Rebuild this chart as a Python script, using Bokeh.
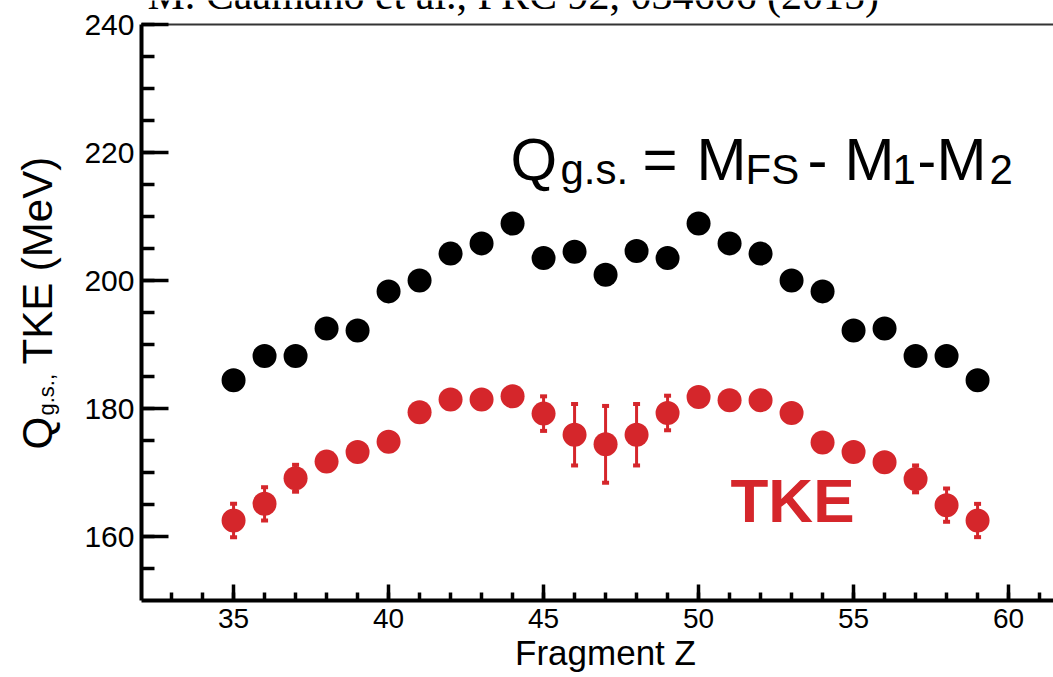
import math

from bokeh.embed import file_html
from bokeh.models import ColumnDataSource, FixedTicker, Label, LinearAxis, Range1d
from bokeh.plotting import figure
from bokeh.resources import INLINE

# ---- data -------------------------------------------------------------
fragment_z = [35, 36, 37, 38, 39, 40, 41, 42, 43, 44, 45, 46, 47,
              48, 49, 50, 51, 52, 53, 54, 55, 56, 57, 58, 59]

# ground-state Q value (MeV)
q_gs = [184.4, 188.2, 188.2, 192.5, 192.2, 198.3, 200.0, 204.2, 205.8, 208.9,
        203.5, 204.5, 200.9, 204.6, 203.5, 208.9, 205.8, 204.2, 200.0, 198.3,
        192.2, 192.5, 188.2, 188.2, 184.4]

# total kinetic energy (MeV) and its uncertainty
tke = [162.5, 165.1, 169.1, 171.7, 173.2, 174.8, 179.4, 181.4, 181.4, 181.9,
       179.2, 175.9, 174.4, 175.9, 179.3, 181.8, 181.3, 181.3, 179.3, 174.7,
       173.2, 171.6, 169.0, 164.9, 162.5]
tke_err = [2.6, 2.6, 2.1, 1.2, 1.2, 1.2, 1.2, 1.2, 1.2, 1.2, 2.7, 4.8, 6.0,
           4.8, 2.7, 1.2, 1.2, 1.2, 1.2, 1.2, 1.2, 1.2, 2.1, 2.6, 2.6]

x_ticks = [35, 40, 45, 50, 55, 60]
x_minor = [33, 34, 35, 36, 37, 38, 39, 40, 41, 42, 43, 44, 45, 46, 47, 48,
           49, 50, 51, 52, 53, 54, 55, 56, 57, 58, 59, 60, 61]
y_ticks = [160, 180, 200, 220, 240]
y_minor = [155, 160, 165, 170, 175, 180, 185, 190, 195, 200, 205, 210, 215,
           220, 225, 230, 235, 240]

# ---- geometry & style -------------------------------------------------
BLACK = "#000000"
RED = "#D5262B"
SANS = "Liberation Sans"
SERIF = "Liberation Serif"

W, H = 1053, 677
AX_LEFT_PX, AX_TOP_PX = 141, 24          # where the axes box sits on the canvas
PX_PER_Z, PX_PER_MEV = 31.0, 6.4
Z_MIN, E_MIN, E_MAX = 32.03, 150.0, 240.0

x_start = Z_MIN - AX_LEFT_PX / PX_PER_Z
x_end = x_start + W / PX_PER_Z
y_end = E_MAX + AX_TOP_PX / PX_PER_MEV
y_start = y_end - H / PX_PER_MEV

# the plotting frame covers the whole canvas; axes are pinned inside it
p = figure(width=W, height=H, output_backend="svg", toolbar_location=None,
           x_range=Range1d(x_start, x_end), y_range=Range1d(y_start, y_end),
           x_axis_location=None, y_axis_location=None,
           min_border=0, min_border_left=0, min_border_right=0,
           min_border_top=0, min_border_bottom=0,
           outline_line_color=None, background_fill_color="white",
           border_fill_color="white")
p.xgrid.visible = False
p.ygrid.visible = False


def style_axis(ax, major_in, minor_in, font_size, standoff):
    ax.axis_line_width = 4
    ax.axis_line_color = BLACK
    ax.major_tick_in = major_in
    ax.major_tick_out = 0
    ax.minor_tick_in = minor_in
    ax.minor_tick_out = 0
    ax.major_tick_line_width = 3.5
    ax.minor_tick_line_width = 3.5
    ax.major_tick_line_color = BLACK
    ax.minor_tick_line_color = BLACK
    ax.major_label_text_font = SANS
    ax.major_label_text_font_size = font_size
    ax.major_label_text_color = BLACK
    ax.major_label_standoff = standoff


xa = LinearAxis(ticker=FixedTicker(ticks=x_ticks, minor_ticks=x_minor),
                fixed_location=E_MIN, bounds=(Z_MIN, x_end))
style_axis(xa, 16, 8, "28px", 8)
p.add_layout(xa, "below")

ya = LinearAxis(ticker=FixedTicker(ticks=y_ticks, minor_ticks=y_minor),
                fixed_location=Z_MIN, bounds=(E_MIN, E_MAX))
style_axis(ya, 27, 13, "30px", 7)
p.add_layout(ya, "left")

# thin frame line along the top
top_axis = LinearAxis(ticker=FixedTicker(ticks=[], minor_ticks=[]),
                      fixed_location=E_MAX, bounds=(Z_MIN, x_end),
                      axis_line_color="#333333", axis_line_width=2,
                      major_tick_line_color=None, minor_tick_line_color=None,
                      major_label_text_font_size="0px")
p.add_layout(top_axis, "above")

# ---- marks ------------------------------------------------------------
src = ColumnDataSource(data=dict(
    z=fragment_z, q=q_gs, tke=tke,
    lo=[v - e for v, e in zip(tke, tke_err)],
    hi=[v + e for v, e in zip(tke, tke_err)],
))

p.scatter("z", "q", source=src, size=24, marker="circle",
          fill_color=BLACK, line_color=None)

p.segment(x0="z", y0="lo", x1="z", y1="hi", source=src,
          line_color=RED, line_width=3)
for end in ("lo", "hi"):
    p.rect(x="z", y=end, width=7, height=4, width_units="screen",
           height_units="screen", source=src, fill_color=RED, line_color=None)
p.scatter("z", "tke", source=src, size=24, marker="circle",
          fill_color=RED, line_color=None)

# ---- text -------------------------------------------------------------
# Labels are anchored on the middle of their em box; BASE_SHIFT moves the
# anchor so that the given canvas y is the text baseline.
BASE_SHIFT = 0.36


def dx(px):
    return x_start + px / PX_PER_Z


def dy(py):
    return y_end - py / PX_PER_MEV


def put(text, px, py, size, color=BLACK, font=SANS, style="normal",
        angle=0.0, align="left"):
    shift = BASE_SHIFT * size
    if angle:
        px -= shift
    else:
        py -= shift
    p.add_layout(Label(x=dx(px), y=dy(py), text=text, text_font=font,
                       text_font_size=f"{size}px", text_color=color,
                       text_font_style=style, text_baseline="middle",
                       text_align=align, angle=angle))


# citation along the top edge
put("M. Caamaño et al., PRC 92, 034606 (2015)", 147, 9.5, 42, font=SERIF)

# Q_g.s. = M_FS - M_1 - M_2
MAIN, SUB = 180.5, 184.0
put("Q", 510, MAIN, 60)
put("g.s.", 560, SUB, 42)
put("=", 642, MAIN, 60)
put("M", 696, MAIN, 60)
put("FS", 745, SUB, 42)
put("-", 807, MAIN, 60)
put("M", 844, MAIN, 60)
put("1", 892, SUB, 42)
put("-", 917, MAIN, 56)
put("M", 936, MAIN, 60)
put("2", 989, SUB, 42)

# series label
put("TKE", 730, 522.7, 62, color=RED, style="bold")

# axis titles
put("Fragment Z", 605, 665, 35, align="center")
put("Q", 52, 449, 42, angle=math.pi / 2)
put("g.s.,", 54, 415, 22, angle=math.pi / 2)
put("TKE (MeV)", 52, 364, 42, angle=math.pi / 2)

open("out.html", "w").write(file_html(p, INLINE))
